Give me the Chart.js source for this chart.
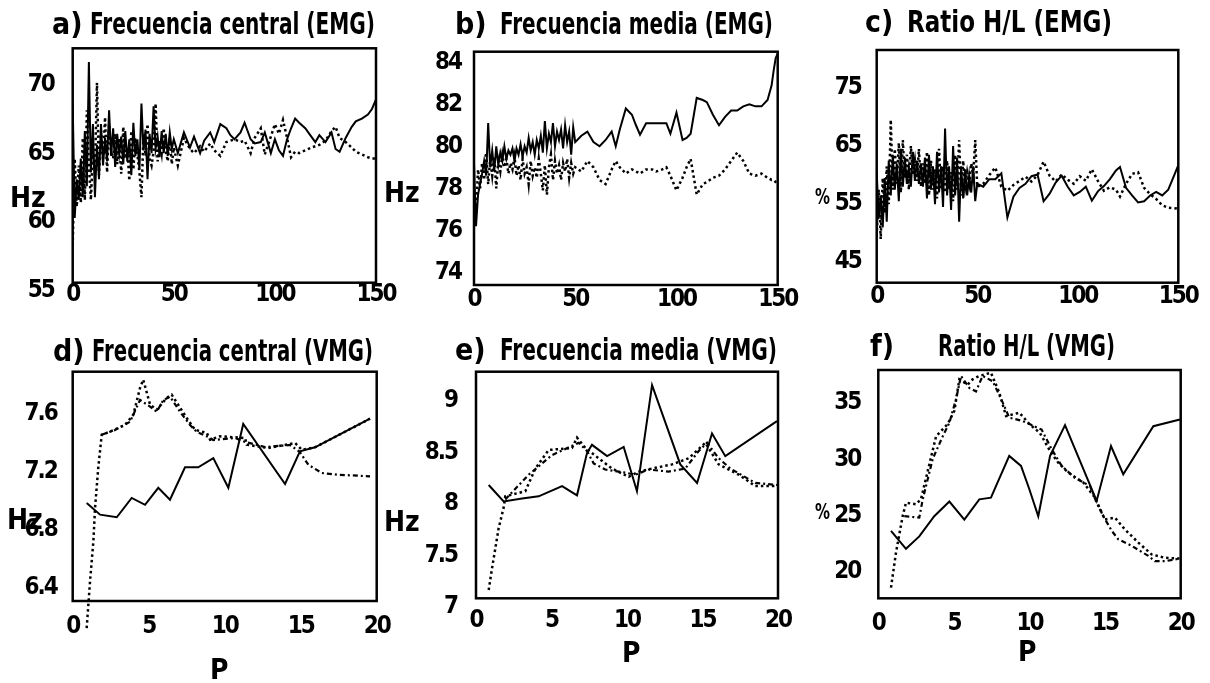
<!DOCTYPE html>
<html>
<head>
<meta charset="utf-8">
<script src="https://cdn.jsdelivr.net/npm/chart.js@4/dist/chart.umd.min.js"></script>
<style>
html, body { margin: 0; padding: 0; background: #fff; }
#page { position: relative; width: 1210px; height: 683px; overflow: hidden; background: #fff; }
#page canvas { position: absolute; }
.t { position: absolute; font-family: "Liberation Sans Narrow", "Arial Narrow", "DejaVu Sans Condensed", sans-serif;
     font-weight: bold; color: #000; white-space: pre; line-height: 1; transform-origin: 0 50%; }
</style>
</head>
<body>
<div id="page"></div>
<script>
// ---------- tick labels ----------
const xTicksEMG = [0, 50, 100, 150];
const xTicksVMG = [0, 5, 10, 15, 20];
const yTicksA = [55, 60, 65, 70];
const yTicksB = [74, 76, 78, 80, 82, 84];
const yTicksC = [45, 55, 65, 75];
const yTicksD = [6.4, 6.8, 7.2, 7.6];
const yTicksE = [7, 7.5, 8, 8.5, 9];
const yTicksF = [20, 25, 30, 35];

// ---------- a) Frecuencia central (EMG) ----------
const aX = [0,1,2,3,4,5,6,7,8,9,10,11,12,13,14,15,16,17,18,19,20,21,22,23,24,25,26,27,28,29,30,31,32,33,34,35,36,37,38,39,40,41,42,43,44,45,46,47,48,49,50,
  52,55,58,60,63,65,68,70,73,76,78,80,83,85,88,90,93,95,98,100,102,104,106,108,110,112,115,118,120,122,125,128,130,132,135,138,140,143,146,148,150];
const aSolid = [68,59.7,62.5,61,64,61.2,66,62,71,63,
  66.5,61.2,65,62.5,66.5,63.5,65.5,63.8,67.5,64.2,
  66.2,63.4,65.8,64.3,65.6,63.6,66,63.8,65.4,62.8,
  66.6,64.2,65.4,63.2,68,64.6,66.1,62.5,65.8,64.4,
  67.8,64.7,65.6,64.1,66,64.4,65.8,64.2,65.9,64.7,
  65.4,
  64.4,65.9,64.8,65.6,64.4,65.3,65.9,65.2,66.5,66.2,
  65.7,65.4,65.9,66.6,65.4,65.1,65.2,65.9,64.4,65.4,
  64.6,64.2,65.4,66.2,66.9,66.6,66.2,65.6,65.2,65.7,
  65.2,65.9,64.7,64.5,65.5,66.3,66.7,66.9,67.2,67.6,68.3];
const aDotted = [57.7,64,60.5,63.5,60.8,65.5,61,67.5,63.5,61,
  64.5,63,69.5,62.8,66,64,67,63,66.5,64.5,
  64,65.8,63.6,65.5,62.9,66.3,64,64.8,62.4,66,
  63.2,65.5,64.3,63,61.2,65.8,64.2,66.5,64,63.5,
  64.5,68,63.8,65.3,64.4,66.2,64.6,63.8,65.5,63.6,
  64.8,
  63.5,65.5,64.7,64.4,64.9,64.5,65.1,64.6,64.2,65.2,
  65.3,65.4,65.2,65.3,64.4,65.5,66.2,64.3,65.6,66.5,
  65.8,66.8,65.5,64.1,64.5,64.4,64.6,64.8,64.9,65.0,
  65.3,66.0,66.3,65.5,65.2,64.8,64.5,64.3,64.1,64.0,64.0];

// ---------- b) Frecuencia media (EMG) ----------
const bX = [0,1,2,3,4,5,6,7,8,9,10,11,12,13,14,15,16,17,18,19,20,21,22,23,24,25,26,27,28,29,30,31,32,33,34,35,36,37,38,39,40,41,42,43,44,45,46,47,48,49,50,
  53,56,59,62,65,68,70,72,75,78,80,82,85,88,90,93,95,97,100,103,105,107,110,113,115,118,121,124,127,130,133,136,139,142,145,147,148,149,150];
const bSolid = [78.8,75.8,77.3,77.8,78.3,78.9,78.2,80.7,78.6,79.4,
  78.4,79.6,78.7,79.3,78.9,79.6,79.0,79.4,79.2,79.5,
  78.9,79.5,79.2,79.7,79.1,79.6,79.3,80.0,79.4,79.8,
  79.2,79.9,79.5,80.1,79.3,80.8,79.5,80.2,79.8,80.7,
  79.6,80.3,79.9,80.4,79.5,80.6,79.8,80.3,79.2,80.5,
  79.8,
  80.1,80.3,79.8,79.6,79.9,80.3,79.6,80.4,81.4,81.1,
  80.6,80.15,80.7,80.7,80.7,80.7,80.7,80.2,81.2,79.9,
  80.0,80.2,81.9,81.8,81.7,81.1,80.6,81.0,81.3,81.3,
  81.5,81.6,81.5,81.5,81.8,82.5,83.2,83.8,84.0];
const bDotted = [77.0,76.5,78.5,77.6,78.8,78.0,79.3,77.8,79.0,78.2,
  79.1,77.6,78.9,78.4,79.2,78.6,79.0,78.3,78.8,78.5,
  79.1,78.2,78.7,78.0,79.0,78.3,78.6,77.8,78.9,78.2,
  78.6,78.1,79.0,78.3,77.5,78.7,77.3,78.6,79.2,78.0,
  78.9,78.3,78.7,78.0,78.8,78.4,79.0,78.1,78.8,78.3,
  78.6,
  78.4,78.9,78.6,78.0,77.8,78.5,78.9,78.6,78.3,78.5,
  78.4,78.3,78.5,78.5,78.4,78.5,78.6,78.2,77.5,78.1,
  78.6,79.0,77.3,77.8,77.9,78.1,78.2,78.5,78.9,79.3,
  78.9,78.3,78.2,78.3,78.1,78.0,78.0,77.9,77.8];

// ---------- c) Ratio H/L (EMG) ----------
const cX = [0,1,2,3,4,5,6,7,8,9,10,11,12,13,14,15,16,17,18,19,20,21,22,23,24,25,26,27,28,29,30,31,32,33,34,35,36,37,38,39,40,41,42,43,44,45,46,47,48,49,50,
  53,56,59,62,65,68,71,74,77,80,83,86,89,92,95,98,101,104,107,110,113,116,119,121,124,127,130,133,136,139,142,145,148,150];
const cSolid = [59,51,55,49.5,58,50.5,61,55,62,56,
  60.5,54,63,56.5,61.5,57,60,56.5,62.5,57.5,
  61,57,60.5,56.5,61.5,54.5,62,56,60,53.5,
  62.5,55.5,60,53,66.5,55,60,52.5,63.5,55,
  61.5,50.5,60,54.5,59.5,55,58.5,55.5,60,54,
  57,
  56.5,57.8,57.8,58.8,51.2,54.8,56.3,57.0,58.3,58.6,
  54.0,55.3,57.2,58.4,56.5,55.0,55.6,56.5,54.1,55.7,
  56.6,57.8,59.3,59.9,56.3,55.0,53.8,54.0,55.0,55.6,
  55.0,56.0,58.5,60.2];
const cDotted = [48,56,47.5,58,52,60,53.5,68,56,63,
  57,64,55.5,64.5,58,62,56,63.5,58.5,61,
  57.5,63,56.5,60.5,57,62.5,55,61,56,59.5,
  54.5,63,56,60,55.5,61,56,59,54,62,
  56,64.5,55,61,56.5,59,57,60.5,58.5,64.5,
  56.5,
  57.0,58.5,59.8,56.5,55.8,56.8,57.5,58.2,57.4,58.5,
  60.8,58.4,57.4,58.6,57.7,57.0,58.3,57.5,59.5,57.5,
  55.8,56.4,56.0,54.8,57.0,58.7,59.0,56.3,55.2,54.4,
  53.3,52.9,52.8,52.7];

// ---------- d) Frecuencia central (VMG) ----------
const dSolidX = [0.92,1.8,2.9,3.88,4.76,5.63,6.4,7.39,8.26,9.25,10.24,11.22,13.97,14.95,15.94,19.56];
const dSolidY = [6.925,6.845,6.827,6.96,6.913,7.03,6.948,7.171,7.171,7.235,7.03,7.47,7.056,7.281,7.309,7.506];
const dDot1X = [0.92,1.14,1.36,1.47,1.68,1.91,2.45,3.44,3.99,4.43,4.64,5.09,5.53,6.18,6.51,7.5,8.05,8.82,9.04,9.69,11.34,11.45,12.87,14.63,15.07,15.94,19.56];
const dDot1Y = [6.063,6.385,6.661,6.891,7.166,7.396,7.416,7.463,7.534,7.718,7.775,7.603,7.568,7.649,7.672,7.511,7.43,7.408,7.361,7.385,7.373,7.327,7.304,7.339,7.292,7.309,7.506];
const dDot2X = [1.91,2.78,3.77,4.43,5.09,5.53,5.96,6.41,7.06,7.72,8.16,8.92,9.25,10.68,11.34,12.65,14.3,14.95,15.5,16.38,17.47,19.56];
const dDot2Y = [7.396,7.428,7.485,7.635,7.589,7.554,7.635,7.658,7.554,7.463,7.416,7.38,7.359,7.373,7.346,7.311,7.325,7.276,7.189,7.132,7.12,7.109];

// ---------- e) Frecuencia media (VMG) ----------
const eSolidX = [0.84,1.83,3.05,4.15,5.7,6.69,7.35,7.68,8.68,9.78,10.66,11.66,13.53,14.64,15.63,16.51,19.93];
const eSolidY = [8.10,7.94,7.97,7.99,8.09,8.0,8.41,8.49,8.38,8.47,8.04,9.07,8.30,8.12,8.60,8.38,8.72];
const eDot1X = [0.84,1.06,1.5,1.83,1.94,3.27,3.93,4.81,6.36,6.69,7.24,8.12,9.0,10.11,10.77,11.66,12.98,14.09,15.19,16.07,17.4,18.5,19.93];
const eDot1Y = [7.08,7.29,7.68,7.88,7.99,8.04,8.26,8.44,8.46,8.56,8.46,8.36,8.26,8.18,8.23,8.26,8.30,8.36,8.51,8.30,8.20,8.09,8.09];
const eDot2X = [1.94,3.49,5.03,6.8,7.35,7.79,8.56,9.89,10.55,11.43,12.76,13.86,14.75,15.3,16.07,16.84,18.5,19.93];
const eDot2Y = [7.96,8.2,8.39,8.51,8.43,8.31,8.25,8.22,8.2,8.25,8.23,8.26,8.43,8.51,8.36,8.26,8.12,8.10];

// ---------- f) Ratio H/L (VMG) ----------
const fSolidX = [0.84,1.83,2.71,3.7,4.7,5.69,6.68,7.45,8.66,9.44,9.99,10.58,11.36,12.35,14.44,15.39,16.2,18.19,19.95];
const fSolidY = [22.9,21.3,22.4,24.2,25.5,23.9,25.7,25.85,29.56,28.67,26.6,24.2,29.56,32.3,25.56,30.44,27.93,32.2,32.8];
const fDot1X = [0.84,1.17,1.61,1.83,2.49,2.82,3.82,4.59,5.03,5.36,5.91,6.24,6.68,7.45,8.0,8.45,9.33,9.99,10.69,11.36,11.9,12.57,13.56,14.33,14.99,15.65,16.3,17.2,18.08,18.96,19.95];
const fDot1Y = [17.85,20.96,24.2,25.4,25.26,25.7,31.3,32.4,33.56,36.37,35.9,36.37,36.67,36.96,35.2,33.1,33.4,32.4,31.6,30.0,28.96,28.07,27.2,25.85,23.9,24.07,23.04,21.85,20.8,20.5,20.43];
const fDot2X = [1.72,2.71,2.94,3.6,4.26,4.7,5.14,5.47,6.02,6.46,6.9,7.57,8.23,8.66,9.55,9.99,10.8,11.47,12.13,13.0,14.0,14.44,14.88,15.44,15.87,16.76,17.86,18.3,18.96,19.95];
const fDot2Y = [24.2,24.07,25.7,29.3,31.3,32.5,34.6,36.67,35.6,35.3,36.67,36.2,34.3,32.96,32.67,32.4,31.9,30.15,28.67,27.6,26.9,25.4,24.2,22.9,22.15,21.56,20.67,20.2,20.2,20.43];

// ---------- drawing ----------
const FONT = '"Liberation Sans Narrow", "Arial Narrow", "DejaVu Sans Condensed", sans-serif';
const page = document.getElementById('page');

const LINE = {
  solid:   { borderWidth: 2,   borderDash: [] },
  dot:     { borderWidth: 2.5, borderDash: [2.5, 3] },
  dashdot: { borderWidth: 2.2, borderDash: [5, 3, 2, 3] }
};

// tighter tracking for the tick numbers, and a frame around the plotting area
const framePlugin = {
  id: 'frame',
  beforeDraw(chart) { chart.ctx.letterSpacing = '-2px'; },
  afterDraw(chart) {
    const { ctx, chartArea: a } = chart;
    ctx.letterSpacing = '0px';
    ctx.save();
    ctx.strokeStyle = '#000';
    ctx.lineWidth = 2.5;
    ctx.strokeRect(a.left, a.top, a.right - a.left, a.bottom - a.top);
    ctx.restore();
  }
};

function pts(xs, ys) { return xs.map((x, i) => ({ x: x, y: ys[i] })); }

const panels = [
  { box: [0, 40, 405, 290],   area: [72.7, 48.3, 376, 282.7],  x: [0, 150], y: [55, 72],     xt: xTicksEMG, yt: yTicksA, yPad: 11, xPad: -10,
    series: [ { d: pts(aX, aSolid), s: 'solid' }, { d: pts(aX, aDotted), s: 'dot' } ] },
  { box: [405, 40, 400, 290], area: [474, 51.7, 777.7, 285],    x: [0, 150], y: [73, 84.1],   xt: xTicksEMG, yt: yTicksB, yPad: 5, xPad: -7.5,
    series: [ { d: pts(bX, bSolid), s: 'solid' }, { d: pts(bX, bDotted), s: 'dot' } ] },
  { box: [805, 40, 405, 290], area: [876.7, 50, 1178.3, 282.7], x: [0, 150], y: [40, 80],     xt: xTicksEMG, yt: yTicksC, yPad: 8, xPad: -8.5,
    series: [ { d: pts(cX, cSolid), s: 'solid' }, { d: pts(cX, cDotted), s: 'dot' } ] },
  { box: [0, 365, 405, 300],  area: [72.7, 371.7, 376.7, 601],  x: [0, 20], y: [6.25, 7.83],  xt: xTicksVMG, yt: yTicksD, yPad: 8, xPad: 3,
    series: [ { d: pts(dSolidX, dSolidY), s: 'solid' }, { d: pts(dDot1X, dDot1Y), s: 'dot', clip: false }, { d: pts(dDot2X, dDot2Y), s: 'dashdot' } ] },
  { box: [405, 365, 400, 300], area: [476, 371.7, 778, 598.3],  x: [0, 20], y: [7, 9.2],      xt: xTicksVMG, yt: yTicksE, yPad: 11, xPad: 0.5,
    series: [ { d: pts(eSolidX, eSolidY), s: 'solid' }, { d: pts(eDot1X, eDot1Y), s: 'dot' }, { d: pts(eDot2X, eDot2Y), s: 'dashdot' } ] },
  { box: [805, 365, 405, 300], area: [878.3, 370, 1180.7, 598.3], x: [0, 20], y: [16.9, 37.2], xt: xTicksVMG, yt: yTicksF, yPad: 10, xPad: 3,
    series: [ { d: pts(fSolidX, fSolidY), s: 'solid' }, { d: pts(fDot1X, fDot1Y), s: 'dot' }, { d: pts(fDot2X, fDot2Y), s: 'dashdot' } ] }
];

const tickFont = { family: FONT, size: 24, weight: 'bold' };

panels.forEach(p => {
  const [bx, by, bw, bh] = p.box;
  const [l, t, r, b] = p.area;
  const cv = document.createElement('canvas');
  cv.width = bw; cv.height = bh;
  cv.style.left = bx + 'px'; cv.style.top = by + 'px';
  cv.style.width = bw + 'px'; cv.style.height = bh + 'px';
  page.appendChild(cv);

  const yW = l - bx, xH = by + bh - b;
  new Chart(cv, {
    type: 'line',
    data: {
      datasets: p.series.map(s => {
        const ds = Object.assign({
          data: s.d, borderColor: '#000', backgroundColor: '#000',
          pointRadius: 0, tension: 0, fill: false, borderCapStyle: 'butt'
        }, LINE[s.s]);
        if (s.clip === false) ds.clip = false;
        return ds;
      })
    },
    options: {
      responsive: false, animation: false, devicePixelRatio: 1, events: [],
      layout: { autoPadding: false, padding: { left: 0, top: t - by, right: bx + bw - r, bottom: 0 } },
      plugins: { legend: { display: false }, tooltip: { enabled: false }, title: { display: false } },
      scales: {
        x: {
          type: 'linear', min: p.x[0], max: p.x[1],
          grid: { display: false }, border: { display: false },
          afterBuildTicks: sc => { sc.ticks = p.xt.map(v => ({ value: v })); },
          afterFit: sc => { sc.height = xH; sc.paddingLeft = 0; sc.paddingRight = 0; },
          ticks: { font: tickFont, color: '#000', padding: p.xPad, maxRotation: 0, autoSkip: false, callback: v => String(v) }
        },
        y: {
          type: 'linear', min: p.y[0], max: p.y[1],
          grid: { display: false }, border: { display: false },
          afterBuildTicks: sc => { sc.ticks = p.yt.map(v => ({ value: v })); },
          afterFit: sc => { sc.width = yW; sc.paddingTop = 0; sc.paddingBottom = 0; },
          ticks: { font: tickFont, color: '#000', padding: p.yPad, labelOffset: 8.5, autoSkip: false, callback: v => String(v) }
        }
      }
    },
    plugins: [framePlugin]
  });
});

// ---------- titles and axis names ----------
function text(str, left, cy, size, width) {
  const d = document.createElement('div');
  d.className = 't';
  d.textContent = str;
  d.style.fontSize = size + 'px';
  d.style.left = left + 'px';
  d.style.top = (cy - size * 0.49) + 'px';
  page.appendChild(d);
  if (width) {
    const w = d.getBoundingClientRect().width;
    d.style.transform = 'scaleX(' + (width / w) + ')';
  }
}

text('a)', 52, 24, 30);  text('Frecuencia central (EMG)', 90, 24, 30, 285);
text('b)', 455, 24, 30); text('Frecuencia media (EMG)', 500, 24, 30, 273);
text('c)', 865, 22, 30); text('Ratio H/L (EMG)', 907, 22, 30, 205);
text('d)', 53, 351, 30); text('Frecuencia central (VMG)', 92, 351, 30, 281);
text('e)', 455, 350, 30); text('Frecuencia media (VMG)', 500, 350, 30, 277);
text('f)', 870, 346, 30); text('Ratio H/L (VMG)', 938, 346, 30, 177);

text('Hz', 10, 198, 28);
text('Hz', 384, 193, 28);
text('%', 815, 197, 21, 15);
text('Hz', 7, 520, 28);
text('Hz', 384, 522, 28);
text('%', 815, 512, 21, 15);
text('P', 210, 670, 28);
text('P', 622, 653, 28);
text('P', 1018, 652, 28);
</script>
</body>
</html>
